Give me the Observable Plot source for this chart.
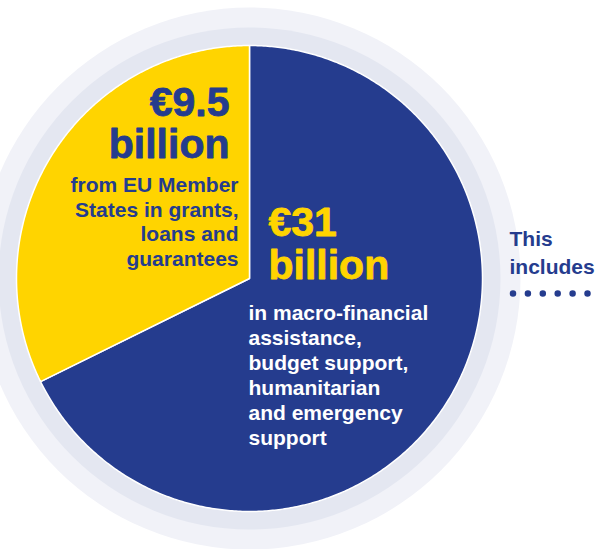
<!DOCTYPE html>
<html><head><meta charset="utf-8">
<script src="https://cdn.jsdelivr.net/npm/d3@7"></script>
<script src="https://cdn.jsdelivr.net/npm/@observablehq/plot@0.6"></script>
<style>html,body{margin:0;padding:0;background:#fff;overflow:hidden} svg{display:block}</style>
</head><body><div id="chart"></div>
<script>
// ---- data ----
const categories = ["EU support", "EU Member States"];
const amountsBillion = [31, 9.5];           // € billion (as labelled)
const sharesDrawn = [67.7, 32.3];           // slice share as drawn in the picture (%)
const sliceColors = ["#253c8e", "#ffd400"];
const amountLabels = ["€31\nbillion", "€9.5\nbillion"];
const descLabels = [
  "in macro-financial\nassistance,\nbudget support,\nhumanitarian\nand emergency\nsupport",
  "from EU Member\nStates in grants,\nloans and\nguarantees"
];
const sideLabel = "This\nincludes";

// ---- layout (pixels) ----
const W = 596, H = 549;
const cx = 249, cy = 278, R = 233;
const ring1 = 251, ring2 = 271;
const blue = "#253c8e", yellow = "#ffd400";
const font = "'Liberation Sans', Arial, Helvetica, sans-serif";

// pie geometry from data
const pie = d3.pie().sort(null).value(d => d.share)
  .startAngle(0).endAngle(2 * Math.PI);
const arcs = pie(categories.map((c, i) => ({cat: c, share: sharesDrawn[i], color: sliceColors[i]})));
const pts = [];
for (const a of arcs) {
  pts.push({cat: a.data.cat, color: a.data.color, x: cx, y: cy});
  const n = Math.max(2, Math.ceil((a.endAngle - a.startAngle) / (Math.PI / 360)));
  for (let k = 0; k <= n; k++) {
    const t = a.startAngle + (a.endAngle - a.startAngle) * k / n;
    pts.push({cat: a.data.cat, color: a.data.color, x: cx + R * Math.sin(t), y: cy - R * Math.cos(t)});
  }
  pts.push({cat: a.data.cat, color: a.data.color, x: cx, y: cy});
}

const center = [{x: cx, y: cy}];
const txt = (text, o) => Plot.text([text], {text: d => d, fontFamily: font, fontWeight: "bold", lineAnchor: "bottom", ...o});

const chart = Plot.plot({
  width: W, height: H, margin: 0,
  x: {domain: [0, W], axis: null},
  y: {domain: [H, 0], axis: null},
  color: {type: "identity"},
  marks: [
    Plot.dot(center, {x: "x", y: "y", r: ring2, fill: "#f1f2f8", stroke: null}),
    Plot.dot(center, {x: "x", y: "y", r: ring1, fill: "#e4e7f1", stroke: null}),
    Plot.line(pts, {x: "x", y: "y", z: "cat", fill: "color", stroke: "white", strokeWidth: 1.5, curve: "linear"}),
    txt(amountLabels[1], {x: 229, y: 157, textAnchor: "end", fontSize: 41, lineHeight: 42 / 41, fill: blue, stroke: blue, strokeWidth: 0.8}),
    txt(descLabels[1], {x: 238, y: 265, textAnchor: "end", fontSize: 21, lineHeight: 24.5 / 21, fill: blue}),
    txt(amountLabels[0], {x: 268, y: 278, textAnchor: "start", fontSize: 41, lineHeight: 43 / 41, fill: yellow, stroke: yellow, strokeWidth: 0.8}),
    txt(descLabels[0], {x: 248, y: 444, textAnchor: "start", fontSize: 21, lineHeight: 25 / 21, fill: "white"}),
    txt(sideLabel, {x: 509, y: 273, textAnchor: "start", fontSize: 21, lineHeight: 28 / 21, fill: blue}),
    Plot.ruleY([293], {x1: 513, x2: 587.5, stroke: blue, strokeWidth: 6.5, strokeDasharray: "0 14.9", strokeLinecap: "round"})
  ]
});
document.getElementById("chart").appendChild(chart);
</script>
</body></html>
